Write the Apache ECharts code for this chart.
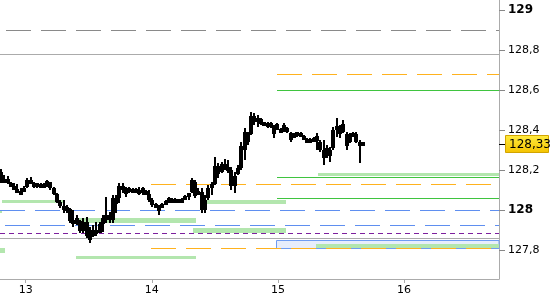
<!DOCTYPE html>
<html><head><meta charset="utf-8">
<script src="https://cdn.jsdelivr.net/npm/echarts@6/dist/echarts.min.js"></script>
<style>html,body{margin:0;padding:0;background:#fff}#c{width:550px;height:300px}</style>
</head><body><div id="c"></div>
<script>
// ---- axes ----
const viewStart = 12.796, viewEnd = 16.753;
const priceMin = 127.655, priceMax = 129.05;
const dayTicks = [13, 14, 15, 16];
const priceTicks = [127.8, 128, 128.2, 128.4, 128.6, 128.8, 129];

// ---- candles ----
const candleStart = 12.804;
const candleStep = 0.0261;
const candleOpen = [128.19,128.15,128.14,128.135,128.12,128.105,128.09,128.09,128.115,128.15,
128.135,128.12,128.13,128.115,128.13,128.14,128.11,128.08,128.04,128.02,
128.00,128.005,127.95,127.93,127.945,127.895,127.94,127.87,127.87,127.90,
127.885,127.93,127.95,127.975,127.95,128.03,128.06,128.12,128.10,128.09,
128.105,128.09,128.10,128.085,128.095,128.08,128.05,128.025,128.015,128.015,
128.03,128.045,128.05,128.04,128.05,128.04,128.055,128.07,128.09,128.14,
128.08,128.09,128.00,128.06,128.11,128.13,128.22,128.19,128.23,128.21,
128.20,128.12,128.18,128.21,128.30,128.38,128.38,128.47,128.44,128.455,
128.43,128.435,128.415,128.42,128.40,128.405,128.395,128.41,128.385,128.365,
128.375,128.385,128.37,128.355,128.34,128.355,128.345,128.34,128.30,128.27,
128.30,128.31,128.40,128.42,128.39,128.38,128.34,128.37,128.38,128.34,128.33];
const candleClose = [128.15,128.14,128.15,128.12,128.105,128.09,128.085,128.11,128.15,128.135,
128.12,128.13,128.115,128.13,128.14,128.11,128.08,128.04,128.02,128.00,
128.01,127.945,127.93,127.96,127.895,127.94,127.87,127.85,127.90,127.88,
127.93,127.96,127.975,127.95,128.06,128.06,128.12,128.10,128.08,128.11,
128.09,128.105,128.085,128.11,128.08,128.05,128.025,128.015,128.00,128.03,
128.045,128.055,128.04,128.055,128.04,128.05,128.07,128.08,128.15,128.07,
128.095,128.00,128.05,128.11,128.13,128.22,128.18,128.23,128.21,128.20,
128.12,128.17,128.21,128.32,128.39,128.34,128.47,128.44,128.46,128.43,
128.435,128.415,128.435,128.38,128.43,128.39,128.425,128.39,128.35,128.38,
128.385,128.37,128.355,128.34,128.355,128.345,128.37,128.30,128.26,128.31,
128.27,128.40,128.42,128.38,128.43,128.32,128.37,128.38,128.34,128.32,128.33];
const candleLow = [128.135,128.135,128.13,128.115,128.10,128.085,128.08,128.09,128.11,128.13,
128.11,128.11,128.11,128.11,128.115,128.10,128.075,128.035,128.01,127.985,
127.985,127.935,127.915,127.925,127.885,127.885,127.86,127.835,127.865,127.87,
127.885,127.89,127.935,127.935,127.935,127.985,128.035,128.085,128.065,128.085,
128.085,128.085,128.075,128.075,128.075,128.04,128.015,128.01,127.975,128.01,
128.025,128.035,128.035,128.035,128.035,128.035,128.05,128.05,128.085,128.06,
128.075,127.985,127.985,128.05,128.075,128.125,128.16,128.185,128.20,128.185,
128.10,128.085,128.175,128.20,128.25,128.325,128.375,128.425,128.415,128.425,
128.425,128.41,128.41,128.36,128.40,128.385,128.39,128.385,128.34,128.36,
128.365,128.365,128.35,128.335,128.335,128.34,128.30,128.29,128.225,128.26,
128.24,128.30,128.365,128.36,128.385,128.30,128.335,128.365,128.335,128.235,128.325];
const candleHigh = [128.205,128.175,128.17,128.14,128.135,128.13,128.11,128.12,128.16,128.165,
128.14,128.135,128.135,128.135,128.15,128.14,128.115,128.085,128.05,128.05,
128.025,128.01,128.00,127.975,127.95,127.96,127.965,127.915,127.925,127.94,
127.94,127.975,128.065,127.99,128.075,128.075,128.135,128.135,128.115,128.115,
128.11,128.11,128.115,128.115,128.10,128.10,128.06,128.035,128.025,128.035,
128.05,128.065,128.06,128.06,128.055,128.06,128.075,128.085,128.16,128.15,
128.11,128.11,128.075,128.125,128.14,128.265,128.235,128.24,128.255,128.25,
128.215,128.19,128.225,128.34,128.41,128.39,128.49,128.485,128.475,128.46,
128.44,128.44,128.44,128.425,128.435,128.41,128.435,128.415,128.39,128.385,
128.39,128.39,128.375,128.36,128.36,128.365,128.385,128.35,128.35,128.325,
128.315,128.415,128.46,128.425,128.45,128.39,128.385,128.39,128.39,128.35,128.335];
const lastPrice = 128.33;

// ---- horizontal levels (price, from day, to day, kind) ----
const levelPrice = [128.90,128.78,128.68,128.60,128.18,128.165,128.13,128.06,128.0435,128.00,
128.04,127.9475,127.9235,127.90,127.885,127.8585,127.82,127.8085,127.7615,127.7975,127.99];
const levelFrom = [12.844,viewStart,14.993,14.993,15.318,14.993,13.993,14.993,12.812,viewStart,
14.406,13.391,12.836,14.327,viewStart,viewStart,15.302,13.993,13.399,viewStart,viewStart];
const levelTo = [viewEnd,viewEnd,viewEnd,viewEnd,viewEnd,viewEnd,viewEnd,viewEnd,13.311,viewEnd,
15.064,14.350,viewEnd,15.064,viewEnd,viewEnd,viewEnd,viewEnd,14.350,12.836,12.812];
const levelKind = ['grayDash','gray','orangeDash','green','band3','green','orangeDash','green','band3','blueDash',
'band4','band5','blueDash','band5','purpleDash','gray','band4','orangeDash','band3','band5','band2'];
// box zone
const boxTop = 127.85, boxBottom = 127.8085, boxFrom = 14.985;

// ---- styles ----
const kindStyle = {
  grayDash: {color:'#8a8a8a', dash:[25,10]},
  gray: {color:'#ababab'},
  orangeDash: {color:'#ffb21e', dash:[25,10]},
  green: {color:'#3fc43f'},
  blueDash: {color:'#5f8ff0', dash:[25,10]},
  purpleDash: {color:'#7d1f9e', dash:[5,4]},
  band2: {color:'#b3e6ae', band:2},
  band3: {color:'#b3e6ae', band:3},
  band4: {color:'#b3e6ae', band:4},
  band5: {color:'#b3e6ae', band:5}
};
const FONT = 'DejaVu Sans';

const candleData = candleOpen.map((o, i) => [candleStart + i * candleStep, o, candleClose[i], candleLow[i], candleHigh[i]]);
const levelData = levelPrice.map((p, i) => [levelFrom[i], levelTo[i], p]);

function renderLevel(params, api) {
  const k = kindStyle[levelKind[params.dataIndex]];
  const p0 = api.coord([api.value(0), api.value(2)]);
  const p1 = api.coord([api.value(1), api.value(2)]);
  const x0 = Math.round(p0[0]), x1 = Math.round(p1[0]);
  if (k.band) {
    return {type:'rect', z2: 1, shape:{x:x0, y:Math.round(p0[1] - k.band / 2), width:x1 - x0, height:k.band}, style:{fill:k.color}};
  }
  const y = Math.floor(p0[1]) + 0.5;
  return {type:'line', z2: 2, shape:{x1:x0, y1:y, x2:x1, y2:y}, style:{stroke:k.color, lineWidth:1, lineDash:k.dash || null}};
}
function renderBox(params, api) {
  const a = api.coord([api.value(0), api.value(2)]);
  const b = api.coord([api.value(1), api.value(3)]);
  const x0 = Math.round(a[0]) + 0.5, y0 = Math.round(a[1]) + 0.5;
  const x1 = Math.round(b[0]), y1 = Math.round(b[1]) + 0.5;
  return {type:'rect', shape:{x:x0, y:y0, width:x1 - x0, height:y1 - y0}, style:{fill:'#e7edfb', stroke:'#6f9cf2', lineWidth:1}};
}
function renderCandle(params, api) {
  const x = api.value(0);
  const o = api.coord([x, api.value(1)]), c = api.coord([x, api.value(2)]);
  const l = api.coord([x, api.value(3)]), h = api.coord([x, api.value(4)]);
  const cx = Math.round(o[0]);
  const hy = Math.round(h[1]), ly = Math.round(l[1]);
  let top = Math.round(Math.min(o[1], c[1])), bot = Math.round(Math.max(o[1], c[1]));
  if (bot - top < 4) { const m = (top + bot) / 2; top = Math.round(m - 2); bot = top + 4; }
  return {type:'group', children:[
    {type:'rect', shape:{x:cx - 1, y:hy, width:2, height:Math.max(ly - hy, 1)}, style:{fill:'#000'}},
    {type:'rect', shape:{x:cx - 2, y:top, width:4, height:bot - top}, style:{fill:'#000'}}
  ]};
}
function fmtPrice(v) {
  return String(Math.round(v * 100) / 100).replace('.', ',');
}
function renderLast(params, api) {
  const p = api.coord([api.value(0), api.value(1)]);
  const y = Math.round(p[1]);
  const x = Math.round(p[0]);
  return {type:'group', children:[
    {type:'line', shape:{x1:x, y1:y + 0.5, x2:x + 7, y2:y + 0.5}, style:{stroke:'#000', lineWidth:1}},
    {type:'rect', shape:{x:x + 6.5, y:y - 8.5, width:43, height:17},
      style:{stroke:'#d2a400', lineWidth:1,
        fill:new echarts.graphic.LinearGradient(0, 0, 0, 1, [{offset:0, color:'#ffec40'}, {offset:1, color:'#f4c200'}])}},
    {type:'text', x:x + 10, y:y + 1, style:{text:fmtPrice(api.value(1)), fill:'#000', font:'12px "DejaVu Sans"', verticalAlign:'middle', align:'left'}}
  ]};
}

const chart = echarts.init(document.getElementById('c'), null, {renderer:'canvas'});
chart.setOption({
  animation: false,
  backgroundColor: '#fff',
  grid: {left:0, right:51, top:0, bottom:21, containLabel:false},
  xAxis: {
    type:'value', min:viewStart, max:viewEnd, position:'bottom',
    axisLine:{show:true, onZero:false, lineStyle:{color:'#ababab'}},
    axisTick:{show:true, customValues:dayTicks, length:4, lineStyle:{color:'#ababab'}},
    axisLabel:{customValues:dayTicks, margin:6, color:'#000', fontSize:11, fontFamily:FONT, formatter: v => String(v)},
    splitLine:{show:false}
  },
  yAxis: {
    type:'value', min:priceMin, max:priceMax, position:'right', scale:true,
    axisLine:{show:true, onZero:false, lineStyle:{color:'#ababab'}},
    axisTick:{show:true, customValues:priceTicks, length:6, lineStyle:{color:'#888'}},
    axisLabel:{customValues:priceTicks, margin:9, color:'#000', fontSize:11, fontFamily:FONT,
      formatter: v => Number.isInteger(v) ? '{b|' + fmtPrice(v) + '}' : fmtPrice(v),
      rich:{b:{fontWeight:'bold', fontSize:12, fontFamily:FONT, color:'#000'}}},
    splitLine:{show:false}
  },
  series: [
    {type:'custom', name:'zone', renderItem:renderBox, encode:{x:[0,1], y:[2,3]},
      data:[[boxFrom, viewEnd, boxTop, boxBottom]], silent:true, z:1},
    {type:'custom', name:'levels', renderItem:renderLevel, encode:{x:[0,1], y:2},
      data:levelData, silent:true, z:2},
    {type:'custom', name:'candles', renderItem:renderCandle, encode:{x:0, y:[1,2,3,4]},
      data:candleData, silent:true, z:5},
    {type:'custom', name:'last', renderItem:renderLast, encode:{x:0, y:1}, clip:false,
      data:[[viewEnd, lastPrice]], silent:true, z:10}
  ]
});
</script></body></html>
